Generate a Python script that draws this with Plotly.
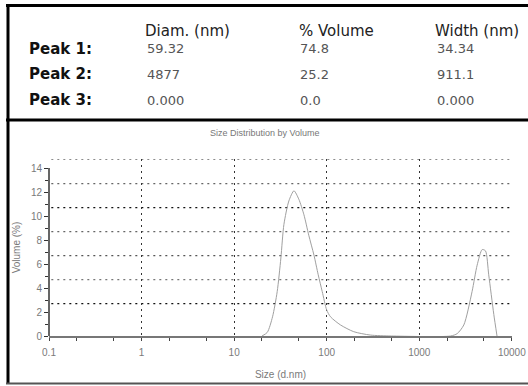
import plotly.graph_objects as go

# ---------------- data ----------------
col_headers = ["Diam. (nm)", "% Volume", "Width (nm)"]
row_labels = ["Peak 1:", "Peak 2:", "Peak 3:"]
diam_nm = ["59.32", "4877", "0.000"]
volume_share = ["74.8", "25.2", "0.0"]
width_nm = ["34.34", "911.1", "0.000"]

sizes_nm = [20.0, 22.8, 26.0, 29.2, 32.0, 34.5, 39.0, 44.3, 50.0, 56.8, 64.0, 72.8,
            81.0, 89.5, 100.0, 110.0, 141.0, 196.0, 295.0, 500.0,
            2180.0, 2570.0, 3030.0, 3720.0, 4220.0, 4780.0, 5190.0, 5630.0, 6390.0, 6920.0]
volume_pct = [0.0, 0.3, 1.6, 3.7, 6.5, 9.3, 11.25, 12.1, 11.4, 10.1, 8.4, 6.75,
              5.1, 3.7, 2.17, 1.6, 0.92, 0.36, 0.08, 0.0,
              0.0, 0.2, 0.92, 3.7, 5.9, 7.2, 7.1, 5.1, 1.8, 0.0]

x_tickvals = [0.1, 1, 10, 100, 1000, 10000]
x_ticktext = ["0.1", "1", "10", "100", "1000", "10000"]
y_tickvals = [0, 2, 4, 6, 8, 10, 12, 14]

# ---------------- layout geometry ----------------
FW, FH = 528, 386
L, R, T, B = 49, 16, 159, 50
PW, PH = FW - L - R, FH - T - B


def px(x):
    return (x - L) / PW


def py(y):
    return (FH - B - y) / PH


fig = go.Figure()
fig.add_trace(go.Scatter(
    x=sizes_nm, y=volume_pct, mode="lines",
    line=dict(color="#a0a0a0", width=1, shape="spline", smoothing=0.7),
    showlegend=False, hoverinfo="skip",
))

tick_font = dict(family="Liberation Sans, Arial, sans-serif", size=10, color="#7a7a7a")

fig.update_layout(
    width=FW, height=FH,
    margin=dict(l=L, r=R, t=T, b=B, autoexpand=False),
    paper_bgcolor="white", plot_bgcolor="white",
    xaxis=dict(
        type="log", range=[-1, 4.002], automargin=False,
        tickvals=x_tickvals, ticktext=x_ticktext,
        tickfont=tick_font, ticklabelstandoff=3,
        showgrid=True, gridcolor="#333", gridwidth=1.2, griddash="2px,4px",
        showline=True, linecolor="#777", linewidth=1.5,
        ticks="outside", ticklen=3, tickcolor="#444",
        minor=dict(ticks="outside", ticklen=3, tickcolor="#444", showgrid=False),
        zeroline=False,
        title=dict(text="Size (d.nm)", font=tick_font, standoff=14),
    ),
    yaxis=dict(
        range=[0, 14.75], automargin=False,
        tickvals=y_tickvals,
        tickfont=tick_font,
        showgrid=False, showline=False,
        ticks="outside", ticklen=4, tickcolor="#333",
        minor=dict(ticks="outside", ticklen=3, tickcolor="#333", dtick=1, showgrid=False),
        zeroline=False,
        title=dict(text="Volume (%)", font=tick_font, standoff=8),
    ),
)

# horizontal dotted grid (offset from tick positions, as in the instrument printout)
grid_y = [2.7, 4.7, 6.7, 8.7, 10.7, 12.7, 14.75]
grid_col = ["#111", "#777", "#555", "#666", "#111", "#666", "#666"]
shapes = []
for gy, gc in zip(grid_y, grid_col):
    shapes.append(dict(type="line", xref="paper", yref="y", x0=0.005, x1=1, y0=gy, y1=gy,
                       line=dict(color=gc, width=1.4, dash="2px,4px"), layer="below"))
shapes += [
    dict(type="line", xref="paper", yref="y", x0=0, x1=0, y0=0, y1=14,
         line=dict(color="#333", width=1.5)),
    # frame: top, left, table separator, bottom
    dict(type="line", xref="paper", yref="paper", x0=px(6), x1=px(530), y0=py(5.5), y1=py(5.5),
         line=dict(color="black", width=3)),
    dict(type="line", xref="paper", yref="paper", x0=px(8), x1=px(8), y0=py(4), y1=py(384),
         line=dict(color="black", width=3)),
    dict(type="line", xref="paper", yref="paper", x0=px(6), x1=px(530), y0=py(120), y1=py(120),
         line=dict(color="black", width=3)),
    dict(type="line", xref="paper", yref="paper", x0=px(6), x1=px(530), y0=py(383.5), y1=py(383.5),
         line=dict(color="#555", width=2)),
]
fig.update_layout(shapes=shapes)

ann = []
table_font = "DejaVu Sans, Verdana, sans-serif"
header_x = [143, 297, 433]
row_y = [48.5, 74, 100]
for hx, h in zip(header_x, col_headers):
    ann.append(dict(text=h, x=px(hx), y=py(31.5), xref="paper", yref="paper",
                    xanchor="left", yanchor="middle", showarrow=False,
                    font=dict(family=table_font, size=15, color="#222")))
for i, lab in enumerate(row_labels):
    ann.append(dict(text="<b>" + lab + "</b>", x=px(27), y=py(row_y[i]), xref="paper", yref="paper",
                    xanchor="left", yanchor="middle", showarrow=False,
                    font=dict(family=table_font, size=15, color="#111")))
    for vx, col in zip([145, 298, 435], [diam_nm, volume_share, width_nm]):
        ann.append(dict(text=col[i], x=px(vx), y=py(row_y[i]), xref="paper", yref="paper",
                        xanchor="left", yanchor="middle", showarrow=False,
                        font=dict(family=table_font, size=13, color="#555")))
ann.append(dict(text="Size Distribution by Volume", x=px(265), y=py(133), xref="paper", yref="paper",
                xanchor="center", yanchor="middle", showarrow=False,
                font=dict(family="Liberation Sans, Arial, sans-serif", size=9, color="#777")))
fig.update_layout(annotations=ann)

fig.write_html("out.html")
